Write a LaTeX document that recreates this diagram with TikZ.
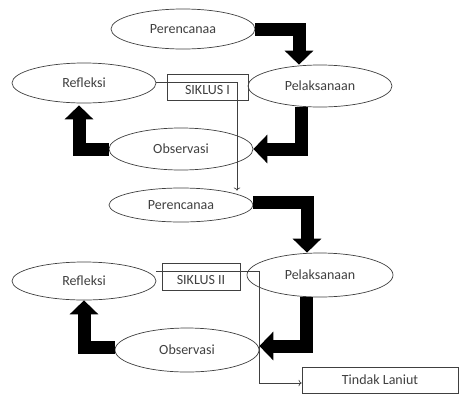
\documentclass[tikz,border=0pt]{standalone}
\usepackage{fontspec}
\setmainfont{Carlito}
\usetikzlibrary{shapes.geometric,arrows.meta}
\definecolor{inkgray}{HTML}{404040}
\begin{document}
\begin{tikzpicture}[x=1pt, y=-1pt,
  stage/.style={ellipse, draw=inkgray, fill=white, line width=0.7pt, minimum width=144pt,
                minimum height=40pt, inner sep=0pt, text=inkgray, font=\fontsize{14}{16}\selectfont},
  cycbox/.style={rectangle, draw=inkgray, line width=0.7pt, inner sep=0pt, text=inkgray,
                 font=\fontsize{14}{16}\selectfont},
  bigarrow/.style={-{Triangle[width=28pt, length=14pt]}, line width=13pt, line join=miter, black},
  flow/.style={->, line width=0.7pt, inkgray}
]
\useasboundingbox (0,0) rectangle (460,397);

% Siklus I
\node[stage] (plan1) at (183,29)  {Perencanaa};
\node[stage, minimum height=42pt] (act1) at (320,86)  {Pelaksanaan};
\node[stage] (ref1)  at (84,83)   {Refleksi};
\node[stage, minimum height=42pt] (obs1) at (181,149) {Observasi};
\node[cycbox, minimum width=81pt, minimum height=26pt, text height=14pt, text depth=0pt] (cyc1) at (207.5,87) {SIKLUS I};

% Siklus II
\node[stage, minimum height=34pt] (plan2) at (181,205) {Perencanaa};
\node[stage, minimum width=146pt, minimum height=44pt] (act2) at (320,275) {Pelaksanaan};
\node[stage, minimum height=38pt] (ref2)  at (84,281)  {Refleksi};
\node[stage, minimum height=44pt] (obs2)  at (187,350) {Observasi};
\node[cycbox, minimum width=78pt, minimum height=27pt, text height=15pt, text depth=0pt] (cyc2) at (201,276.5) {SIKLUS II};

% Tindak lanjut
\node[cycbox, minimum width=156pt, minimum height=26pt] (next) at (380,380) {Tindak Laniut};

% Thick arrows, cycle I
\draw[bigarrow] (plan1.east) -| ([xshift=-21pt]act1.north);
\draw[bigarrow] ([xshift=-19pt]act1.south) |- (obs1.east);
\draw[bigarrow] (obs1.west) -| ([xshift=-5pt, yshift=-2pt]ref1.south);

% Thick arrows, cycle II
\draw[bigarrow] ([yshift=3pt]plan2.east) -| ([xshift=-13pt]act2.north);
\draw[bigarrow] ([xshift=-14pt]act2.south) |- ([yshift=4pt]obs2.east);
\draw[bigarrow] ([yshift=3pt]obs2.west) -| (ref2.south);

% Thin connectors
\draw[flow] ([yshift=1pt]ref1.east) -| ([xshift=56pt, yshift=-3pt]plan2.north);
\draw[flow] ([yshift=10pt]ref2.east) -| ([xshift=-42pt, yshift=-3pt]next.west) -- ([yshift=-3pt]next.west);
\end{tikzpicture}
\end{document}
